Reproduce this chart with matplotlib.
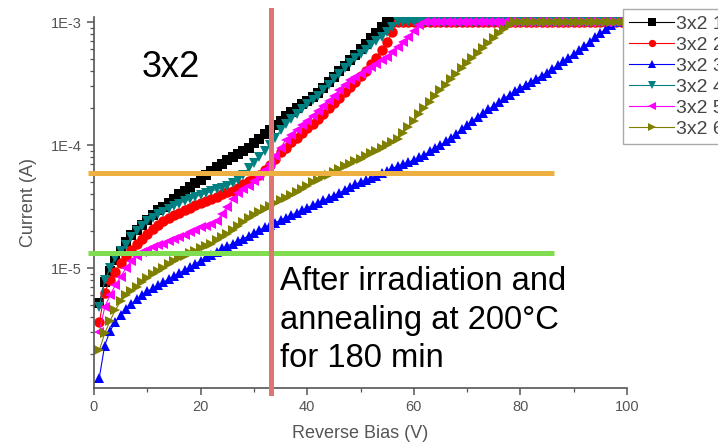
import numpy as np
import matplotlib
matplotlib.use("Agg")
from matplotlib import pyplot as plt
from matplotlib.ticker import LogLocator, NullFormatter, MultipleLocator

plt.rcParams['font.family'] = ['Liberation Sans', 'DejaVu Sans']

# reverse bias sweep, 1 V steps
volts = np.arange(1, 101)
compliance = 1000.0  # uA, supply limit (1E-3 A)

# currents in uA, up to the point each device hits compliance
cur1 = [5.19, 7.76, 9.55, 11.6, 13.8, 16.2, 18.6, 20.4, 22.4, 24.5,
        26.9, 29.5, 31.6, 33.9, 36.3, 39.8, 42.7, 45.7, 49.0, 52.5,
        56.9, 61.7, 66.1, 70.8, 75.0, 79.4, 85.1, 90.2, 95.5, 103.5,
        112, 122, 132, 145, 158, 174, 186, 200, 214, 229,
        245, 263, 292, 324, 359, 398, 442, 490, 543, 603,
        668, 741, 822, 912]
cur2 = [3.63, 6.31, 7.94, 9.33, 11.0, 12.6, 14.1, 15.8, 17.4, 19.1,
        20.7, 22.4, 24.0, 25.4, 26.9, 28.2, 29.5, 30.9, 32.4, 33.9,
        35.1, 36.3, 38.0, 39.8, 41.2, 42.7, 45.2, 47.9, 50.7, 53.7,
        57.5, 63.1, 69.2, 77.6, 87.1, 95.5, 105, 115, 126, 138,
        148, 162, 180, 200, 219, 243, 269, 295, 327, 363,
        398, 457, 513, 589, 692, 832]
cur3 = [1.29, 2.34, 3.09, 3.63, 4.17, 4.68, 5.13, 5.56, 6.03, 6.46,
        6.84, 7.24, 7.67, 8.13, 8.61, 9.12, 9.66, 10.2, 10.8, 11.5,
        12.2, 12.9, 13.6, 14.5, 15.1, 15.8, 16.6, 17.4, 18.2, 19.3,
        20.4, 21.4, 22.4, 23.4, 24.5, 25.7, 26.9, 28.2, 29.5, 30.9,
        32.4, 33.9, 35.5, 37.2, 38.9, 40.7, 43.2, 45.7, 47.9, 50.1,
        51.9, 53.7, 56.2, 58.9, 61.7, 64.6, 67.6, 70.0, 72.4, 75.9,
        79.4, 83.2, 89.1, 95.5, 100, 107, 115, 124, 135, 145,
        157, 170, 182, 195, 209, 224, 240, 257, 275, 292,
        309, 327, 347, 367, 389, 417, 447, 479, 513, 550,
        589, 638, 692, 750, 813, 881, 955]
cur4 = [4.79, 7.94, 10.0, 12.0, 13.8, 15.5, 17.8, 20.0, 21.9, 24.0,
        25.7, 27.5, 28.8, 30.5, 32.0, 33.5, 35.1, 36.3, 38.0, 39.4,
        40.7, 42.2, 43.7, 45.2, 46.8, 49.0, 52.5, 57.5, 64.6, 71.6,
        79.4, 89.1, 100, 115, 132, 148, 162, 178, 195, 214,
        234, 251, 279, 309, 343, 380, 422, 468, 507, 550,
        596, 646, 700, 759, 832, 912]
cur5 = [3.02, 4.79, 6.03, 7.24, 8.51, 10.0, 11.5, 12.6, 13.5, 14.1,
        14.8, 15.3, 15.8, 16.6, 17.4, 18.0, 18.6, 19.5, 20.4, 21.4,
        22.1, 22.9, 24.0, 27.5, 31.6, 36.3, 40.7, 43.7, 46.8, 51.3,
        56.2, 63.1, 70.8, 81.3, 95.5, 110, 120, 132, 145, 158,
        174, 191, 209, 229, 251, 279, 309, 339, 359, 380,
        407, 432, 457, 490, 525, 575, 631, 692, 759, 851,
        955]
cur6 = [2.14, 2.95, 3.72, 4.57, 5.37, 6.03, 6.53, 7.08, 7.67, 8.32,
        8.91, 9.55, 10.1, 10.7, 11.4, 12.0, 12.6, 13.2, 13.8, 14.5,
        15.1, 15.8, 16.8, 17.8, 19.1, 20.4, 21.9, 23.7, 25.4, 26.9,
        28.5, 30.2, 32.0, 33.9, 35.5, 37.2, 39.4, 41.7, 44.2, 46.8,
        50.1, 52.5, 55.0, 57.5, 60.3, 63.8, 67.6, 70.8, 74.1, 77.6,
        81.3, 86.1, 90.2, 95.5, 100, 106, 112, 126, 141, 158,
        178, 200, 224, 251, 279, 309, 343, 380, 422, 468,
        513, 562, 617, 676, 741, 813, 881, 955]

series = [cur1, cur2, cur3, cur4, cur5, cur6]
labels = ['3x2 1', '3x2 2', '3x2 3', '3x2 4', '3x2 5', '3x2 6']
colors = ['#000000', '#ff0000', '#0000ff', '#008080', '#ff00ff', '#808000']
markers = ['s', 'o', '^', 'v', '<', '>']

bias_cut = 33.2       # V, vertical marker
i_high = 5.9e-5       # A, orange level
i_low = 1.32e-5       # A, green level

W, H = 718, 444
fig = plt.figure(figsize=(W / 100, H / 100), dpi=100)
ax = fig.add_axes([94 / W, 56 / H, 533 / W, 371 / H])

for cur, lab, c, m in zip(series, labels, colors, markers):
    full = np.array(cur + [compliance] * (len(volts) - len(cur))) * 1e-6
    ax.plot(volts, full, color=c, marker=m, markersize=7.5, linewidth=0.8,
            markeredgewidth=0, label=lab)

ax.set_yscale('log')
ax.set_xlim(0, 100)
ax.set_ylim(1.06e-6, 1.1e-3)

ax.set_yticks([1e-5, 1e-4, 1e-3])
ax.set_yticklabels(['1E-5', '1E-4', '1E-3'])
ax.yaxis.set_minor_locator(LogLocator(base=10, subs=np.arange(2, 10)))
ax.yaxis.set_minor_formatter(NullFormatter())
ax.set_xticks([0, 20, 40, 60, 80, 100])
ax.xaxis.set_minor_locator(MultipleLocator(10))

gray = '#555555'
for s in ['top', 'right']:
    ax.spines[s].set_visible(False)
for s in ['left', 'bottom']:
    ax.spines[s].set_color(gray)
    ax.spines[s].set_linewidth(1.2)
ax.tick_params(which='major', direction='out', length=5, width=1.1,
               color=gray, labelcolor=gray, labelsize=10.5)
ax.tick_params(which='minor', direction='out', length=3, width=0.9, color=gray)

ax.set_xlabel('Reverse Bias (V)', fontsize=13, color=gray, labelpad=8)
ax.set_ylabel('Current (A)', fontsize=13, color=gray, labelpad=10)

# guide lines
ax.plot([-1.1, 86.3], [i_low, i_low], color='#80dd50', linewidth=3.6,
        clip_on=False, zorder=5, solid_capstyle='butt')
ax.axvline(bias_cut, ymin=-0.013, ymax=1.02, color='#dd7570', linewidth=3.6,
           clip_on=False, zorder=5)
ax.plot([-1.1, 86.3], [i_high, i_high], color='#eeb040', linewidth=3.6,
        clip_on=False, zorder=6, solid_capstyle='butt')

# legend runs off the right edge, as in the original figure
leg = fig.legend(loc='upper left', bbox_to_anchor=(623 / W, 1 - 9 / H),
                 borderaxespad=0, fontsize=14, handlelength=2.3,
                 handletextpad=0.12, labelspacing=0.17, borderpad=0.33,
                 fancybox=False, framealpha=1, markerscale=0.7)
leg.get_frame().set_edgecolor('#aaaaaa')
leg.get_frame().set_linewidth(1.0)
for t in leg.get_texts():
    t.set_color('#444444')

fig.text(142 / W, 1 - 77 / H, '3x2', fontsize=26, va='baseline')
note = ['After irradiation and', 'annealing at 200\u00b0C', 'for 180 min']
for k, line in enumerate(note):
    fig.text(280 / W, 1 - (290 + 38.5 * k) / H, line, fontsize=23.6, va='baseline')

fig.savefig('out.png', dpi=100)
